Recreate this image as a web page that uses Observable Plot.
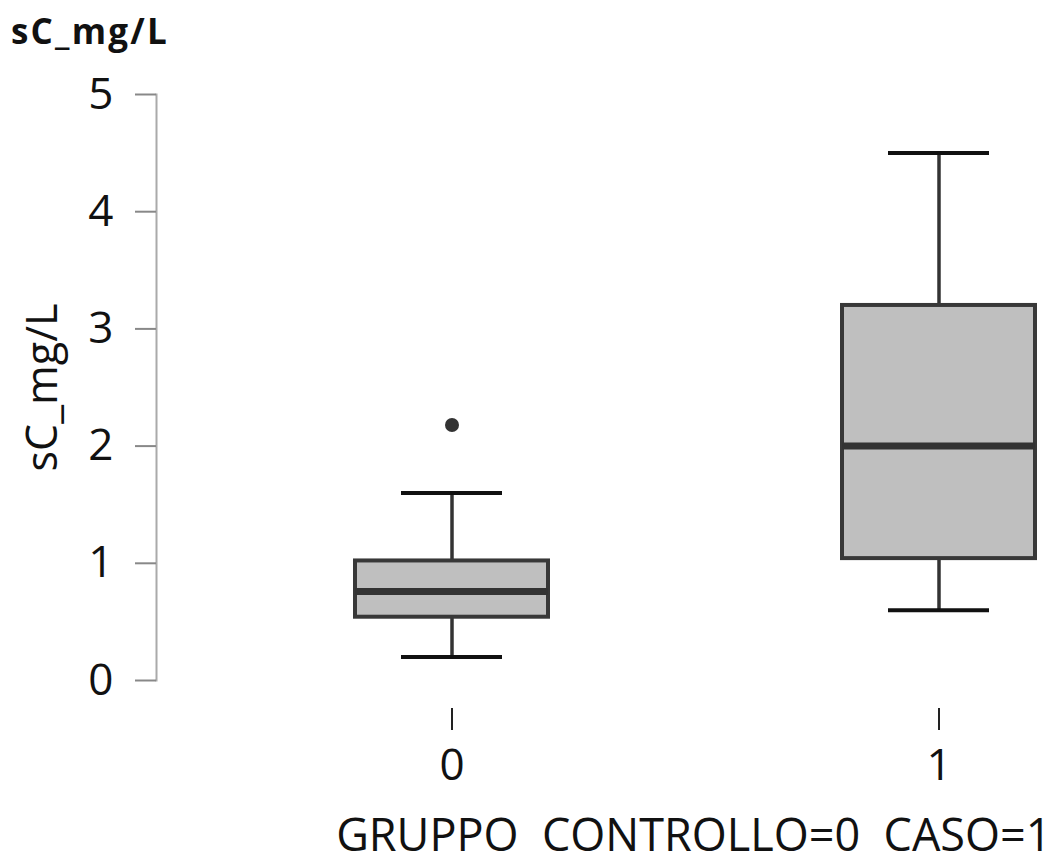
<!DOCTYPE html>
<html><head><meta charset="utf-8">
<script src="https://cdn.jsdelivr.net/npm/d3@7"></script>
<script src="https://cdn.jsdelivr.net/npm/@observablehq/plot@0.6"></script>
<style>
body{margin:0;background:#fff;}
#wrap{position:relative;width:1057px;height:865px;}
#title{position:absolute;left:11px;top:7px;font-family:"Open Sans",sans-serif;font-weight:bold;font-size:35px;letter-spacing:2.2px;color:#111;}
#chart{position:absolute;left:0;top:0;}
</style></head>
<body><div id="wrap"><div id="chart"></div><div id="title">sC_mg/L</div></div>
<script>
const groups = ["0", "1"];
const whiskerLow = [0.2, 0.6];
const q1 = [0.54, 1.04];
const median = [0.76, 2.0];
const q3 = [1.02, 3.2];
const whiskerHigh = [1.6, 4.5];
const outlierGroup = ["0"];
const outlierValue = [2.18];
const yTicks = [0, 1, 2, 3, 4, 5];

const boxes = groups.map((g, i) => ({g, lo: whiskerLow[i], q1: q1[i], med: median[i], q3: q3[i], hi: whiskerHigh[i]}));
const outliers = outlierGroup.map((g, i) => ({g, v: outlierValue[i]}));
const font = "Open Sans";

const plot = Plot.plot({
  width: 1057, height: 865,
  marginTop: 94, marginBottom: 185, marginLeft: 156, marginRight: 0,
  style: {fontFamily: font, background: "#fff", overflow: "visible"},
  x: {type: "band", domain: groups, range: [354, 1035], paddingInner: 0.6045, paddingOuter: 0, axis: null},
  y: {domain: [0, 5], axis: null},
  marks: [
    Plot.frame({anchor: "left", stroke: "#aaa", strokeWidth: 2}),
    Plot.axisY({ticks: yTicks, tickFormat: "d", tickSize: 21, stroke: "#888", strokeWidth: 2, tickPadding: 22, fontSize: 44, fill: "#111", label: null}),
    Plot.text(["sC_mg/L"], {frameAnchor: "left", textAnchor: "middle", rotate: -90, dx: -113, fontSize: 43, fill: "#111", text: d => d, style: {letterSpacing: "1.5px"}}),
    Plot.axisX({tickSize: 22, dy: 28, stroke: "#222", strokeWidth: 2, tickPadding: 18, fontSize: 44, fill: "#111", label: null}),
    Plot.text(["GRUPPO  CONTROLLO=0  CASO=1"], {frameAnchor: "bottom-right", dy: 170, dx: -6, textAnchor: "end", fontSize: 45, fill: "#111", text: d => d, style: {whiteSpace: "pre"}}),
    Plot.ruleX(boxes, {x: "g", y1: "lo", y2: "q1", stroke: "#333", strokeWidth: 3.5}),
    Plot.ruleX(boxes, {x: "g", y1: "q3", y2: "hi", stroke: "#333", strokeWidth: 3.5}),
    Plot.tickY(boxes, {x: "g", y: "lo", stroke: "#111", strokeWidth: 4, insetLeft: 46, insetRight: 46}),
    Plot.tickY(boxes, {x: "g", y: "hi", stroke: "#111", strokeWidth: 4, insetLeft: 46, insetRight: 46}),
    Plot.barY(boxes, {x: "g", y1: "q1", y2: "q3", fill: "#bfbfbf", stroke: "#383838", strokeWidth: 4}),
    Plot.tickY(boxes, {x: "g", y: "med", stroke: "#333", strokeWidth: 7}),
    Plot.dot(outliers, {x: "g", y: "v", r: 7, fill: "#333", stroke: "none"})
  ]
});
document.getElementById("chart").appendChild(plot);
</script></body></html>
